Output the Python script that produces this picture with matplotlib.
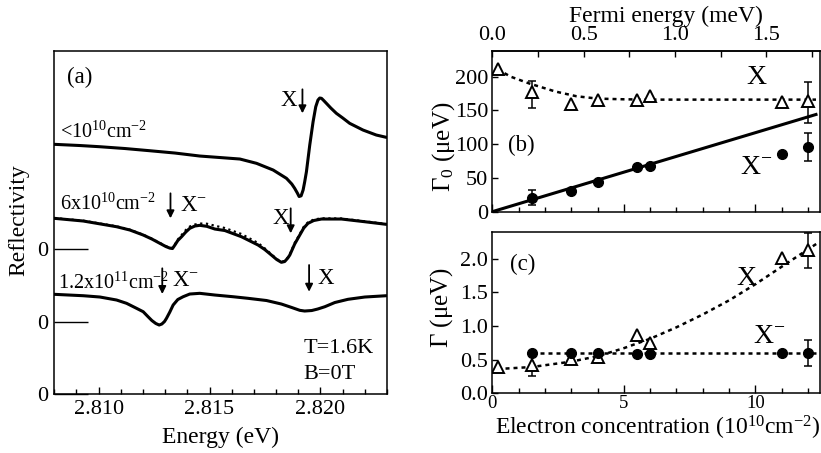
import numpy as np
import matplotlib
matplotlib.use('Agg')
import matplotlib.pyplot as plt
from matplotlib.ticker import MultipleLocator, FormatStrFormatter

plt.rcParams['font.family'] = 'Liberation Serif'
plt.rcParams['mathtext.fontset'] = 'custom'
plt.rcParams['mathtext.rm'] = 'Liberation Serif'
plt.rcParams['mathtext.it'] = 'Liberation Serif:italic'
plt.rcParams['mathtext.default'] = 'regular'
plt.rcParams['axes.linewidth'] = 1.1

# (a) reflectivity spectra, arbitrary units, each relative to its own zero
e_low = [2.80800, 2.80916, 2.81006, 2.81119, 2.81231, 2.81344, 2.81456, 2.81547,
         2.81637, 2.81712, 2.81787, 2.81847, 2.81871, 2.81884, 2.81896, 2.81904,
         2.81913, 2.81922, 2.81929, 2.81937, 2.81952, 2.81967, 2.81979, 2.81989,
         2.81997, 2.82005, 2.82015, 2.82027, 2.82047, 2.82072, 2.82101, 2.82132,
         2.82192, 2.82252, 2.82297]
r_low = [2.497, 2.485, 2.473, 2.455, 2.433, 2.410, 2.380, 2.365,
         2.350, 2.307, 2.240, 2.157, 2.100, 2.057, 2.010, 1.975,
         1.982, 2.040, 2.120, 2.223, 2.490, 2.723, 2.873, 2.940,
         2.960, 2.957, 2.935, 2.907, 2.860, 2.807, 2.760, 2.707,
         2.640, 2.590, 2.567]

e_mid = [2.80800, 2.80931, 2.81081, 2.81141, 2.81201, 2.81240, 2.81276, 2.81303,
         2.81321, 2.81333, 2.81344, 2.81357, 2.81374, 2.81393, 2.81411, 2.81434,
         2.81456, 2.81488, 2.81524, 2.81569, 2.81644, 2.81719, 2.81749, 2.81779,
         2.81803, 2.81824, 2.81839, 2.81853, 2.81862, 2.81884, 2.81907, 2.81925,
         2.81944, 2.81970, 2.82005, 2.82095, 2.82200, 2.82297]
r_mid = [0.302, 0.275, 0.218, 0.185, 0.135, 0.095, 0.052, 0.020,
         0.004, 0.000, 0.035, 0.080, 0.118, 0.165, 0.202, 0.225,
         0.232, 0.222, 0.195, 0.180, 0.118, 0.035, -0.010, -0.065,
         -0.110, -0.138, -0.130, -0.095, -0.065, 0.045, 0.135, 0.205,
         0.252, 0.280, 0.295, 0.295, 0.268, 0.242]
e_mid_fit = [2.80800, 2.80931, 2.81081, 2.81141, 2.81201, 2.81240, 2.81276, 2.81303,
             2.81321, 2.81333, 2.81344, 2.81357, 2.81374, 2.81393, 2.81411, 2.81434,
             2.81456, 2.81488, 2.81524, 2.81569, 2.81644, 2.81719, 2.81749, 2.81779,
             2.81803, 2.81824, 2.81839, 2.81853, 2.81862, 2.81884, 2.81907, 2.81925,
             2.81944, 2.81970, 2.82005, 2.82095, 2.82200, 2.82297]
r_mid_fit = [0.305, 0.278, 0.222, 0.188, 0.138, 0.098, 0.056, 0.024,
             0.008, 0.005, 0.040, 0.090, 0.135, 0.185, 0.220, 0.240,
             0.250, 0.248, 0.228, 0.205, 0.145, 0.055, 0.002, -0.058,
             -0.105, -0.133, -0.125, -0.090, -0.058, 0.055, 0.145, 0.218,
             0.262, 0.290, 0.302, 0.300, 0.272, 0.245]

e_high = [2.80800, 2.80931, 2.81006, 2.81081, 2.81126, 2.81171, 2.81201, 2.81222,
          2.81240, 2.81258, 2.81273, 2.81285, 2.81297, 2.81306, 2.81321, 2.81336,
          2.81357, 2.81381, 2.81411, 2.81456, 2.81524, 2.81606, 2.81674, 2.81757,
          2.81824, 2.81871, 2.81907, 2.81929, 2.81961, 2.81988, 2.82020, 2.82065,
          2.82124, 2.82200, 2.82297]
r_high = [0.274, 0.260, 0.247, 0.217, 0.184, 0.134, 0.100, 0.052,
          0.012, -0.018, -0.033, -0.023, 0.002, 0.034, 0.097, 0.167,
          0.222, 0.250, 0.277, 0.284, 0.267, 0.250, 0.234, 0.212,
          0.177, 0.142, 0.114, 0.107, 0.112, 0.127, 0.150, 0.192,
          0.224, 0.247, 0.260]

offsets = [0.0, 1.455, 0.723]

# (b), (c) linewidths vs electron concentration (1e10 cm^-2)
n_x = np.array([0.2, 1.5, 3, 4, 5.5, 6, 11, 12])
g0_x = np.array([211, 177, 160, 166, 166, 171, 162, 164])
g0_x_lo = np.array([0, 24, 0, 0, 0, 0, 0, 32])
g0_x_hi = np.array([0, 17, 0, 0, 0, 0, 0, 28])
g_x = np.array([0.395, 0.42, 0.505, 0.545, 0.866, 0.74, 2.015, 2.12])
g_x_err = np.array([0, 0.16, 0, 0, 0, 0, 0, 0.265])

n_t = np.array([1.5, 3, 4, 5.5, 6, 11, 12])
g0_t = np.array([20.7, 31, 44.5, 65.7, 67.7, 85.5, 95.4])
g0_t_err = np.array([11.5, 0, 0, 0, 0, 0, 20.5])
g_t = np.array([0.60, 0.60, 0.60, 0.59, 0.59, 0.60, 0.60])
g_t_err = np.array([0, 0, 0, 0, 0, 0, 0.19])

# guide lines
fit_b_x_n = [0.2, 0.7, 1.4, 2.4, 3.2, 4.0, 5.0, 6.0, 8.0, 12.3]
fit_b_x = [211, 200, 190, 178, 171, 167.5, 166.5, 166, 166, 166]
fit_b_t_n = [0, 12.3]
fit_b_t = [0, 144]
fit_c_x_n = [0.2, 1.5, 3, 4, 5, 6, 7, 8, 9, 10, 11, 12.4]
fit_c_x = [0.36, 0.39, 0.47, 0.55, 0.67, 0.81, 0.98, 1.17, 1.38, 1.62, 1.88, 2.24]
fit_c_t_n = [1.5, 12.3]
fit_c_t = [0.6, 0.6]

fermi_per_n = 0.144

dash = (0, (1.6, 1.6))


def arrow(ax, x, y0, y1):
    ax.annotate('', xy=(x, y1), xytext=(x, y0),
                arrowprops=dict(arrowstyle='-|>', color='k', lw=1.3,
                                mutation_scale=11, shrinkA=0, shrinkB=0))


def errs(ax, x, y, lo, hi):
    m = (lo > 0) | (hi > 0)
    ax.errorbar(x[m], y[m], yerr=[lo[m], hi[m]], fmt='none', ecolor='k',
                elinewidth=1.1, capsize=3, capthick=1.1, zorder=2)


def markers(ax, x, y, kind):
    if kind == 'tri':
        ax.plot(x, y, '^', ms=8, mfc='white', mec='k', mew=1.4, ls='none', zorder=3)
    else:
        ax.plot(x, y, 'o', ms=7, color='k', ls='none', zorder=3)


fig = plt.figure(figsize=(8.21, 4.53), dpi=100)
ax_a = fig.add_axes([0.0661, 0.1302, 0.4052, 0.7578])
ax_b = fig.add_axes([0.5996, 0.5327, 0.3991, 0.3554])
ax_c = fig.add_axes([0.5996, 0.1318, 0.3991, 0.3554])

# ---- panel (a)
line_kw = dict(color='k', lw=2.2, solid_joinstyle='round', solid_capstyle='round')
ax_a.plot(e_low, np.array(r_low) + offsets[0], **line_kw)
ax_a.plot(e_mid, np.array(r_mid) + offsets[1], **line_kw)
ax_a.plot(e_mid_fit, np.array(r_mid_fit) + offsets[1], 'k', lw=1.6, ls=(0, (1, 1.6)))
ax_a.plot(e_high, np.array(r_high) + offsets[2], **line_kw)
ax_a.set_xlim(2.808, 2.823)
ax_a.set_ylim(0, 3.433)
ax_a.xaxis.set_major_locator(MultipleLocator(0.005))
ax_a.xaxis.set_minor_locator(MultipleLocator(0.001))
ax_a.xaxis.set_major_formatter(FormatStrFormatter('%.3f'))
ax_a.tick_params(axis='x', which='major', direction='in', length=5, width=1, labelsize=16, pad=4)
ax_a.tick_params(axis='x', which='minor', direction='in', length=3.5, width=1)
ax_a.set_yticks([0, offsets[2], offsets[1]])
ax_a.set_yticklabels(['0', '0', '0'])
ax_a.tick_params(axis='y', direction='in', length=24.5, width=1, labelsize=16, pad=4)
ax_a.set_xlabel('Energy (eV)', fontsize=17, labelpad=6)
ax_a.set_ylabel('Reflectivity', fontsize=17)
ax_a.yaxis.set_label_coords(-0.076, 0.507)

ax_a.text(2.80916, 3.167, '(a)', fontsize=16.5, ha='center', va='center')
ax_a.text(2.80826, 2.623, '<10$^{10}$cm$^{-2}$', fontsize=14.5, ha='left', va='center')
ax_a.text(2.80826, 1.90, '6x10$^{10}$cm$^{-2}$', fontsize=14.5, ha='left', va='center')
ax_a.text(2.80815, 1.11, '1.2x10$^{11}$cm$^{-2}$', fontsize=14.5, ha='left', va='center')
ax_a.text(2.81859, 2.94, 'X', fontsize=16.5, ha='center', va='center')
arrow(ax_a, 2.81919, 3.047, 2.807)
ax_a.text(2.81366, 1.89, 'X$^{-}$', fontsize=16.5, ha='left', va='center')
arrow(ax_a, 2.81324, 2.007, 1.757)
ax_a.text(2.81820, 1.757, 'X', fontsize=16.5, ha='center', va='center')
arrow(ax_a, 2.81866, 1.857, 1.607)
ax_a.text(2.81329, 1.14, 'X$^{-}$', fontsize=16.5, ha='left', va='center')
arrow(ax_a, 2.81287, 1.257, 1.0)
ax_a.text(2.81989, 1.157, 'X', fontsize=16.5, ha='left', va='center')
arrow(ax_a, 2.81949, 1.29, 1.023)
ax_a.text(2.81922, 0.457, 'T=1.6K', fontsize=16, ha='left', va='center')
ax_a.text(2.81922, 0.20, 'B=0T', fontsize=16, ha='left', va='center')

# ---- panel (b)
ax_b.plot(fit_b_x_n, fit_b_x, 'k', lw=1.8, ls=dash, zorder=1)
ax_b.plot(fit_b_t_n, fit_b_t, 'k', lw=2.2, zorder=1)
errs(ax_b, n_x, g0_x, g0_x_lo, g0_x_hi)
errs(ax_b, n_t, g0_t, g0_t_err, g0_t_err)
markers(ax_b, n_x, g0_x, 'tri')
markers(ax_b, n_t, g0_t, 'dot')
ax_b.set_xlim(0, 12.45)
ax_b.set_ylim(0, 238.5)
ax_b.yaxis.set_major_locator(MultipleLocator(50))
ax_b.set_ylabel(r'$\Gamma_0$ ($\mu$eV)', fontsize=18)
ax_b.yaxis.set_label_coords(-0.109, 0.40)
ax_b.text(1.12, 98, '(b)', fontsize=16.5, ha='center', va='center')
ax_b.text(9.64, 199, 'X', fontsize=20, ha='left', va='center')
ax_b.text(9.41, 65, 'X$^{-}$', fontsize=20, ha='left', va='center')

top = ax_b.secondary_xaxis('top', functions=(lambda n: n * fermi_per_n,
                                             lambda e: e / fermi_per_n))
top.xaxis.set_major_locator(MultipleLocator(0.5))
top.xaxis.set_minor_locator(MultipleLocator(0.25))
top.xaxis.set_major_formatter(FormatStrFormatter('%.1f'))
top.tick_params(which='both', direction='in', length=4, width=1, labelsize=16, pad=4)
top.set_xlabel('Fermi energy (meV)', fontsize=17)
top.xaxis.label.set_verticalalignment('top')
top.xaxis.set_label_coords(0.529, 1.28, transform=ax_b.transAxes)

# ---- panel (c)
ax_c.plot(fit_c_x_n, fit_c_x, 'k', lw=1.8, ls=dash, zorder=1)
ax_c.plot(fit_c_t_n, fit_c_t, 'k', lw=1.8, ls=dash, zorder=1)
errs(ax_c, n_x, g_x, g_x_err, g_x_err)
errs(ax_c, n_t, g_t, g_t_err, g_t_err)
markers(ax_c, n_x, g_x, 'tri')
markers(ax_c, n_t, g_t, 'dot')
ax_c.set_xlim(0, 12.45)
ax_c.set_ylim(0, 2.39)
ax_c.yaxis.set_major_locator(MultipleLocator(0.5))
ax_c.yaxis.set_major_formatter(FormatStrFormatter('%.1f'))
ax_c.set_ylabel(r'$\Gamma$ ($\mu$eV)', fontsize=18)
ax_c.yaxis.set_label_coords(-0.114, 0.53)
ax_c.set_xlabel('Electron concentration (10$^{10}$cm$^{-2}$)', fontsize=17)
ax_c.xaxis.set_label_coords(0.505, -0.13)
ax_c.text(1.17, 1.92, '(c)', fontsize=16.5, ha='center', va='center')
ax_c.text(9.29, 1.70, 'X', fontsize=20, ha='left', va='center')
ax_c.text(9.92, 0.84, 'X$^{-}$', fontsize=20, ha='left', va='center')

for ax in (ax_b, ax_c):
    ax.xaxis.set_major_locator(MultipleLocator(5))
    ax.xaxis.set_minor_locator(MultipleLocator(1))
    ax.tick_params(axis='x', which='major', direction='in', length=5.5, width=1,
                   top=False, labelsize=13.5, pad=1)
    ax.tick_params(axis='x', which='minor', direction='in', length=3.5, width=1, top=False)
    ax.tick_params(axis='y', direction='in', length=4, width=1, labelsize=16, pad=3)
ax_b.tick_params(axis='x', labelbottom=False)

fig.savefig('out.png', dpi=100)
